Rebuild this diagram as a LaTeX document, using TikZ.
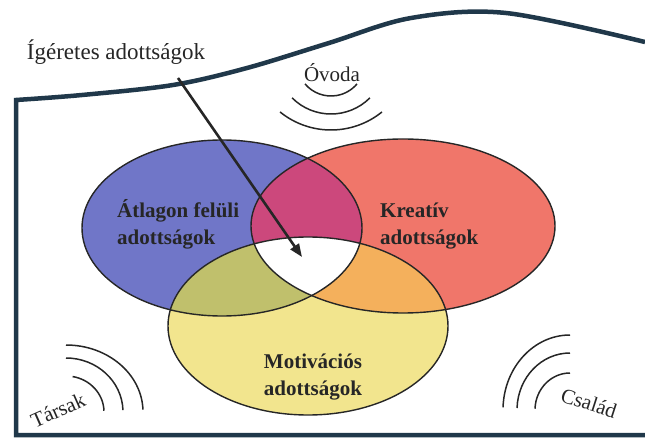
\documentclass[tikz,border=0pt]{standalone}
\usepackage{fontspec}
\setmainfont{Liberation Serif}
\usepackage{tikz}
\usetikzlibrary{arrows,arrows.meta}

\definecolor{framecol}{RGB}{32,56,74}
\definecolor{bluecol}{RGB}{112,118,200}
\definecolor{redcol}{RGB}{240,118,106}
\definecolor{magcol}{RGB}{204,72,124}
\definecolor{yelcol}{RGB}{242,229,142}
\definecolor{olivecol}{RGB}{192,192,108}
\definecolor{orangecol}{RGB}{244,176,92}

\begin{document}
\begin{tikzpicture}[
x=1pt, y=-1pt,
frame/.style={draw=framecol,line width=4.5pt,line join=miter},
setline/.style={draw=black!85,line width=1.4pt},
wave/.style={draw=black!85,line width=1.5pt},
setlabel/.style={font=\fontsize{21}{27}\selectfont\bfseries,align=left,text=black!85,inner sep=0pt},
word/.style={font=\fontsize{21}{25}\selectfont,text=black!85,inner sep=0pt},
arrow/.style={-{Triangle[length=13pt,width=10pt]},line width=2.6pt,draw=black!85} ]

\useasboundingbox (0,0) rectangle (645,438);

\coordinate (bl) at (222,228);

\coordinate (rd) at (403,226);

\coordinate (yl) at (308,326);

\fill[bluecol] (bl) ellipse (140pt and 88pt);

\fill[redcol] (rd) ellipse (152pt and 87pt);

\fill[yelcol] (yl) ellipse (140pt and 89pt);

\begin{scope}
\clip (bl) ellipse (140pt and 88pt);
\fill[magcol] (rd) ellipse (152pt and 87pt);
\fill[olivecol] (yl) ellipse (140pt and 89pt);
\clip (rd) ellipse (152pt and 87pt);
\fill[white] (yl) ellipse (140pt and 89pt);
\end{scope}

\begin{scope}
\clip (rd) ellipse (152pt and 87pt);
\clip (yl) ellipse (140pt and 89pt);
\fill[orangecol] (rd) ellipse (152pt and 87pt);
\clip (bl) ellipse (140pt and 88pt);
\fill[white] (yl) ellipse (140pt and 89pt);
\end{scope}

\draw[setline] (bl) ellipse (140pt and 88pt);

\draw[setline] (rd) ellipse (152pt and 87pt);

\draw[setline] (yl) ellipse (140pt and 89pt);

\node[setlabel,anchor=west] (above) at (117,224) {Átlagon felüli\\adottságok};

\node[setlabel,anchor=west] (creative) at (380,226) {Kreatív\\adottságok};

\node[setlabel] (motive) at (313,377) {Motivációs\\adottságok};

\draw[frame] plot[smooth,tension=0.55] coordinates {(645,42) (506,13) (411,18) (329,43) (247,68) (173,85) (82,95) (16,100)} -- (16,435) -- (645,435);

\node[word,font=\fontsize{23}{27}\selectfont] (promise) at (116,52) {Ígéretes adottságok};

\node[word] (kinder) at (332,73) {Óvoda};

\node[word,rotate=24] (peers) at (58,410) {Társak};

\node[word,rotate=-18] (family) at (589,403) {Család};

\coordinate (arrowstart) at (178,78);

\coordinate (arrowtip) at (302,257);

\draw[arrow] (arrowstart) -- (arrowtip);

\foreach \r/\cy/\a in {34/62/50,55/59/45,81/49/39}
  \draw[wave] (331,\cy) ++(270-\a:\r pt) arc[start angle=270-\a,end angle=270+\a,radius=\r pt];

\foreach \xr/\yr/\s in {38/36/80,57/54/90,77/67/90}
  \draw[wave] (66,412) ++(\s:\xr pt and \yr pt) arc[start angle=\s,end angle=2,x radius=\xr pt,y radius=\yr pt];

\foreach \xr/\yr/\s in {35/37/90,53/57/90,67/75/90}
  \draw[wave] (570,410) ++(\s:\xr pt and \yr pt) arc[start angle=\s,end angle=178,x radius=\xr pt,y radius=\yr pt];

\end{tikzpicture}
\end{document}
